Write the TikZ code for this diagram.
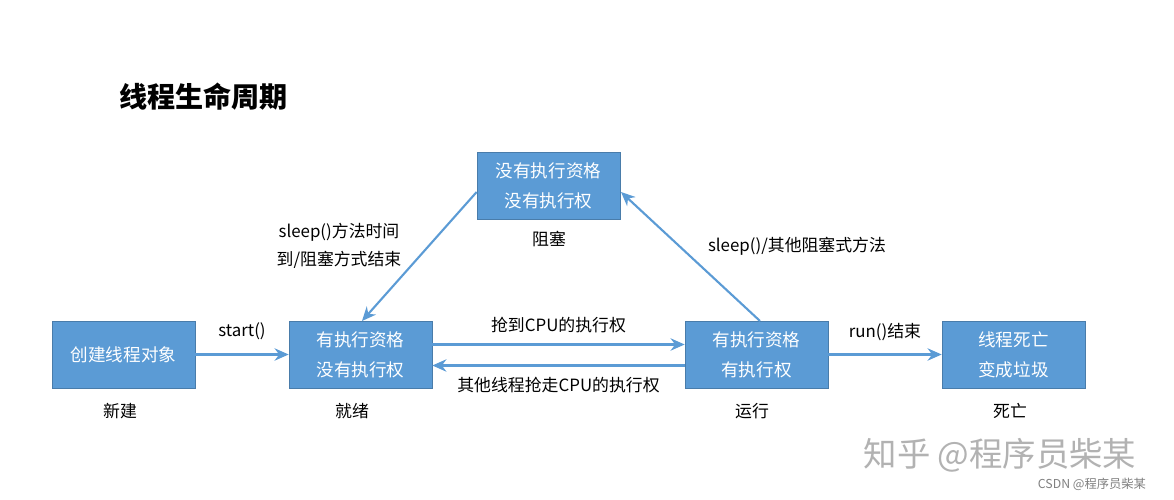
\documentclass[tikz,border=0pt]{standalone}
\usepackage{fontspec}
\setmainfont{Noto Sans CJK SC}
\usetikzlibrary{arrows.meta}
\definecolor{bx}{HTML}{5B9BD5}
\begin{document}
\begin{tikzpicture}[x=0.02cm,y=-0.02cm,
  box/.style={fill=bx,draw=bx!80!black,line width=0.4pt,minimum width=2.86cm,minimum height=1.34cm,text=white,font=\fontsize{10}{17}\selectfont,align=center,inner sep=0pt},
  lab/.style={font=\fontsize{9.6}{16}\selectfont,align=center,inner sep=0pt},
  arr/.style={draw=bx,line width=1.2pt,-{Stealth[length=8pt,width=7pt]}}]
\useasboundingbox[fill=white] (0,0) rectangle (1174,500);
\node[font=\bfseries\fontsize{16}{18}\selectfont,anchor=west] (title) at (113,97) {线程生命周期};
\node[box] (new) at (123.5,354.5) {创建线程对象};
\node[box] (ready) at (360.5,354.5) {有执行资格\\没有执行权};
\node[box] (run) at (756.5,354.5) {有执行资格\\有执行权};
\node[box] (dead) at (1013.5,354.5) {线程死亡\\变成垃圾};
\node[box] (block) at (548.5,185.5) {没有执行资格\\没有执行权};
\node[lab] (l1) at (120,411) {新建};
\node[lab] (l2) at (352,411) {就绪};
\node[lab] (l3) at (752,411) {运行};
\node[lab] (l4) at (1010,411) {死亡};
\node[lab] (l5) at (549,239) {阻塞};
\draw[arr] (new.east) -- (ready.west) node[lab,midway,above=8pt] {start()};
\draw[arr] ([yshift=0.2cm]ready.east) -- ([yshift=0.2cm]run.west) node[lab,midway,above=6pt] {抢到CPU的执行权};
\draw[arr] ([yshift=-0.22cm]run.west) -- ([yshift=-0.22cm]ready.east) node[lab,midway,below=6pt] {其他线程抢走CPU的执行权};
\draw[arr] (run.east) -- (dead.west) node[lab,midway,above=7pt] {run()结束};
\coordinate (b1) at (477,192);
\coordinate (r1) at (362,321);
\draw[arr] (block.west |- b1) -- (r1);
\coordinate (r2) at (760,321);
\coordinate (b2) at (621,192);
\draw[arr] (r2) -- (b2);
\node[lab] (t1) at (339,246) {sleep()方法时间\\到/阻塞方式结束};
\node[lab] (t2) at (797,246) {sleep()/其他阻塞式方法};
\node[font=\fontsize{19}{20}\selectfont,text=gray!60] (wm) at (1000,455) {知乎 @程序员柴某};
\node[font=\fontsize{7}{8}\selectfont,text=gray] (wm2) at (1092,484) {CSDN @程序员柴某};
\end{tikzpicture}
\end{document}
